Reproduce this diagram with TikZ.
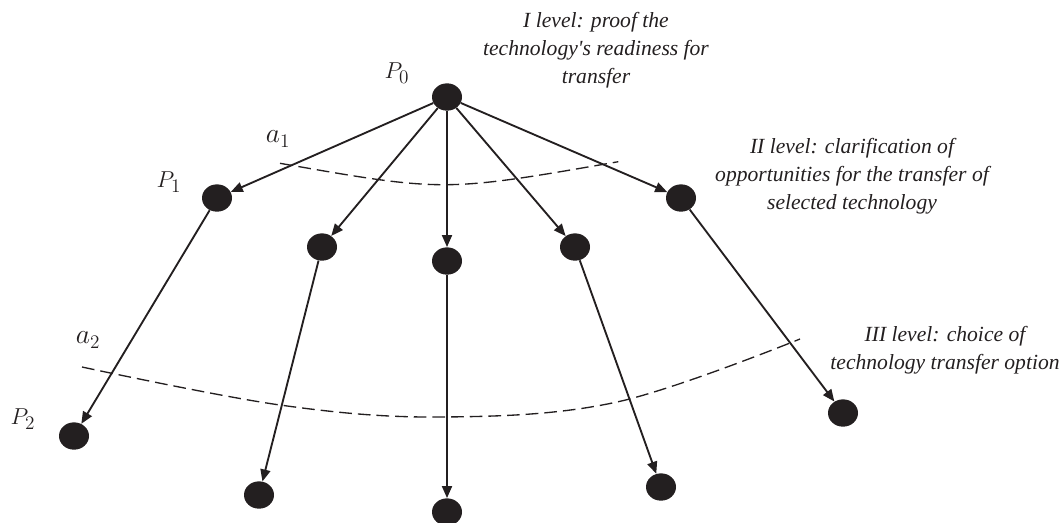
\documentclass[tikz,border=0pt]{standalone}
\usepackage{fontspec}
\setmainfont{Liberation Serif}
\usetikzlibrary{arrows.meta,shapes.geometric}
\definecolor{ink}{RGB}{35,31,32}
\begin{document}
\begin{tikzpicture}[x=0.75pt,y=-0.75pt,
  dot/.style={ellipse,fill=ink,draw=none,minimum width=22.5pt,minimum height=20.5pt,inner sep=0pt},
  edge/.style={draw=ink,line width=1.4pt,-{Triangle[length=9pt,width=7.5pt]}},
  guide/.style={draw=ink,line width=1pt,dash pattern=on 9.5pt off 4.5pt},
  lvl/.style={align=center,text=ink,font=\itshape\fontsize{16.2}{21.2}\selectfont,inner sep=0pt},
  plab/.style={text=ink,font=\fontsize{19}{21}\selectfont,inner sep=0pt},
  alab/.style={text=ink,font=\fontsize{19.5}{21}\selectfont,inner sep=0pt}]
\useasboundingbox (0,0) rectangle (1059,522);
% nodes
\node[dot] (p0) at (447,97) {};
\node[dot] (b1) at (217,198) {};
\node[dot] (b2) at (322,247) {};
\node[dot] (b3) at (447,261) {};
\node[dot] (b4) at (575,247) {};
\node[dot] (b5) at (681,198) {};
\node[dot] (c1) at (74,436) {};
\node[dot] (c2) at (259,495) {};
\node[dot] (c3) at (447,512) {};
\node[dot] (c4) at (661,487) {};
\node[dot] (c5) at (843,413) {};
% dashed arcs
\draw[guide] (280,163.3) .. controls (444.2,192.1) .. (618.3,161.7);
\draw[guide] plot[smooth,tension=0.6] coordinates {(82,367) (280,405) (442,417) (617,402) (800,339)};
% edges
\foreach \t in {b1,b2,b3,b4,b5} \draw[edge] (p0) -- (\t);
\draw[edge] (b1) -- (c1);
\draw[edge] (b2) -- (c2);
\draw[edge] (b3) -- (c3);
\draw[edge] (b4) -- (c4);
\draw[edge] (b5) -- (c5);
% labels
\node[plab] (lp0) at (397,73) {$P_0$};
\node[plab] (lp1) at (169,182) {$P_1$};
\node[plab] (lp2) at (23,419) {$P_2$};
\node[alab] (la1) at (278,139) {$a_1$};
\node[alab] (la2) at (88,340) {$a_2$};
\node[lvl] (t1) at (596,50) {I level: proof the\\technology\textquotesingle s readiness for\\transfer};
\node[lvl] (t2) at (852,176) {II level: clarification of\\opportunities for the transfer of\\selected technology};
\node[lvl] (t3) at (945,350) {III level: choice of\\technology transfer option};
\end{tikzpicture}
\end{document}
